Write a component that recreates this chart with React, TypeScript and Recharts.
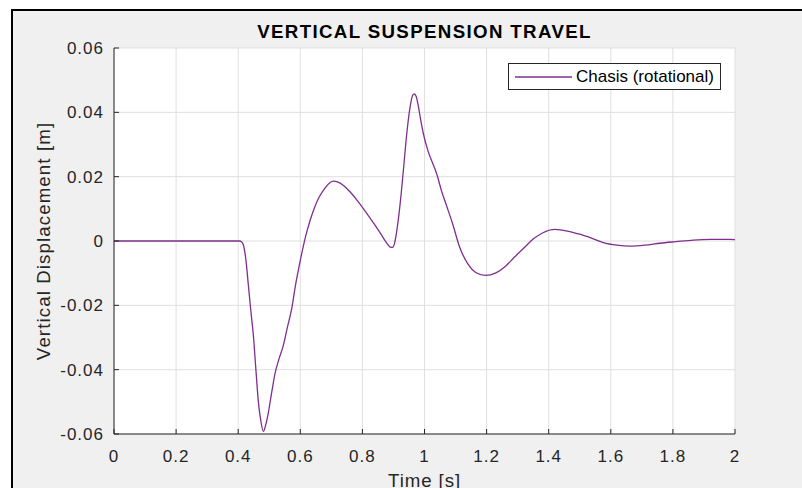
import React from 'react';
import { LineChart, Line, XAxis, YAxis, CartesianGrid, Label } from 'recharts';

const TIME = [0, 0.1, 0.2, 0.3, 0.4, 0.405, 0.41, 0.416, 0.425, 0.433, 0.441, 0.449, 0.457, 0.465, 0.473, 0.481, 0.489, 0.497, 0.508, 0.519, 0.532, 0.545, 0.558, 0.572, 0.585, 0.599, 0.61, 0.62, 0.631, 0.645, 0.66, 0.68, 0.695, 0.706, 0.72, 0.74, 0.76, 0.79, 0.814, 0.84, 0.862, 0.878, 0.89, 0.897, 0.904, 0.912, 0.922, 0.932, 0.943, 0.955, 0.962, 0.967, 0.973, 0.98, 0.988, 0.996, 1.012, 1.025, 1.039, 1.055, 1.072, 1.09, 1.114, 1.14, 1.165, 1.195, 1.23, 1.26, 1.29, 1.32, 1.35, 1.38, 1.42, 1.46, 1.5, 1.54, 1.576, 1.62, 1.662, 1.71, 1.758, 1.81, 1.866, 1.92, 1.984, 2];

const DISP = [0, 0, 0, 0, 0, 0, -0.0002, -0.001, -0.006, -0.014, -0.022, -0.0295, -0.04, -0.05, -0.056, -0.0592, -0.057, -0.0534, -0.047, -0.041, -0.0365, -0.0326, -0.027, -0.0212, -0.0135, -0.0065, -0.0015, 0.0025, 0.0062, 0.0102, 0.0135, 0.0165, 0.0181, 0.0186, 0.0184, 0.0172, 0.0153, 0.0118, 0.0086, 0.005, 0.0018, -0.0006, -0.0019, -0.002, -0.0005, 0.004, 0.012, 0.022, 0.0335, 0.0425, 0.0453, 0.0457, 0.045, 0.042, 0.0375, 0.0335, 0.0278, 0.0245, 0.021, 0.0155, 0.0107, 0.0055, -0.0021, -0.0072, -0.0098, -0.0107, -0.0099, -0.0079, -0.005, -0.0022, 0.0006, 0.0025, 0.0036, 0.0031, 0.0021, 0.0008, -0.0005, -0.0013, -0.0016, -0.0013, -0.0007, -0.0002, 0.0003, 0.0005, 0.0005, 0.0004];

const X_TICKS = [0, 0.2, 0.4, 0.6, 0.8, 1, 1.2, 1.4, 1.6, 1.8, 2];
const Y_TICKS = [-0.06, -0.04, -0.02, 0, 0.02, 0.04, 0.06];

const SERIES_NAME = 'Chasis (rotational)';
const TITLE = 'VERTICAL SUSPENSION TRAVEL';
const X_LABEL = 'Time [s]';
const Y_LABEL = 'Vertical Displacement [m]';

const LINE_COLOR = '#7E2F8E';
const AXIS_COLOR = '#262626';

const data = TIME.map((t, i) => ({ t, v: DISP[i] }));
const fmt = (v: number) => String(parseFloat(v.toFixed(2)));
const blank = () => '';

export default function App() {
  return (
    <div
      style={{
        position: 'absolute',
        left: 0,
        top: 0,
        width: 802,
        height: 488,
        background: '#ffffff',
        overflow: 'hidden',
        fontFamily: '"Liberation Sans", Arial, Helvetica, sans-serif',
        letterSpacing: '1px',
      }}
    >
      <div
        style={{
          position: 'absolute',
          left: 11,
          top: 9,
          width: 802,
          height: 488,
          background: '#f0f0f0',
          borderTop: '2px solid #000',
          borderLeft: '2px solid #000',
        }}
      />
      <svg width={802} height={48} style={{ position: 'absolute', left: 0, top: 0 }}>
        <text
          x={424.5}
          y={38}
          textAnchor="middle"
          fontSize={18.7}
          fontWeight="bold"
          fill="#000"
          style={{ letterSpacing: '1.36px' }}
        >
          {TITLE}
        </text>
      </svg>
      <div style={{ position: 'absolute', left: 0, top: 0 }}>
        <LineChart width={802} height={488} data={data} margin={{ top: 48, right: 67, bottom: 0, left: 0 }}>
          <CartesianGrid stroke="#dfdfdf" fill="#ffffff" />
          <XAxis
            dataKey="t"
            type="number"
            domain={[0, 2]}
            ticks={X_TICKS}
            interval={0}
            tickFormatter={fmt}
            height={54}
            tickSize={-5}
            tickMargin={21}
            stroke={AXIS_COLOR}
            tick={{ fill: AXIS_COLOR, fontSize: 17 }}
          >
            <Label
              content={(p: any) => (
                <text
                  x={p.viewBox.x + p.viewBox.width / 2}
                  y={p.viewBox.y + 53}
                  textAnchor="middle"
                  fontSize={18.7}
                  fill={AXIS_COLOR}
                  style={{ letterSpacing: '0.9px' }}
                >
                  {X_LABEL}
                </text>
              )}
            />
          </XAxis>
          <XAxis
            xAxisId="top"
            orientation="top"
            dataKey="t"
            type="number"
            domain={[0, 2]}
            ticks={X_TICKS}
            interval={0}
            tickFormatter={blank}
            height={0}
            tickSize={-5}
            stroke={AXIS_COLOR}
          />
          <YAxis
            type="number"
            domain={[-0.06, 0.06]}
            ticks={Y_TICKS}
            interval={0}
            tickFormatter={fmt}
            width={114}
            tickSize={-5}
            tickMargin={15}
            stroke={AXIS_COLOR}
            tick={{ fill: AXIS_COLOR, fontSize: 17 }}
          >
            <Label
              content={(p: any) => {
                const cx = 50;
                const cy = p.viewBox.y + p.viewBox.height / 2;
                return (
                  <text
                    x={cx}
                    y={cy}
                    textAnchor="middle"
                    fontSize={18.7}
                    fill={AXIS_COLOR}
                    transform={`rotate(-90, ${cx}, ${cy})`}
                    style={{ letterSpacing: '1.1px' }}
                  >
                    {Y_LABEL}
                  </text>
                );
              }}
            />
          </YAxis>
          <YAxis
            yAxisId="right"
            orientation="right"
            type="number"
            domain={[-0.06, 0.06]}
            ticks={Y_TICKS}
            interval={0}
            tickFormatter={blank}
            width={0}
            tickSize={-5}
            stroke={AXIS_COLOR}
          />
          <Line
            type="monotone"
            dataKey="v"
            name={SERIES_NAME}
            stroke={LINE_COLOR}
            strokeWidth={1.3}
            dot={false}
            activeDot={false}
            isAnimationActive={false}
          />
        </LineChart>
      </div>
      <div
        style={{
          position: 'absolute',
          left: 508,
          top: 63,
          width: 213,
          height: 27,
          boxSizing: 'border-box',
          border: `1px solid ${AXIS_COLOR}`,
          background: '#fff',
          letterSpacing: '0px',
        }}
      >
        <svg width={64} height={25} style={{ position: 'absolute', left: 0, top: 0 }}>
          <line x1={6} x2={63} y1={13} y2={13} stroke={LINE_COLOR} strokeWidth={1.3} />
        </svg>
        <div
          style={{
            position: 'absolute',
            left: 67,
            top: 0,
            height: 25,
            lineHeight: '25px',
            fontSize: 17,
            color: '#000',
            whiteSpace: 'nowrap',
          }}
        >
          {SERIES_NAME}
        </div>
      </div>
    </div>
  );
}
